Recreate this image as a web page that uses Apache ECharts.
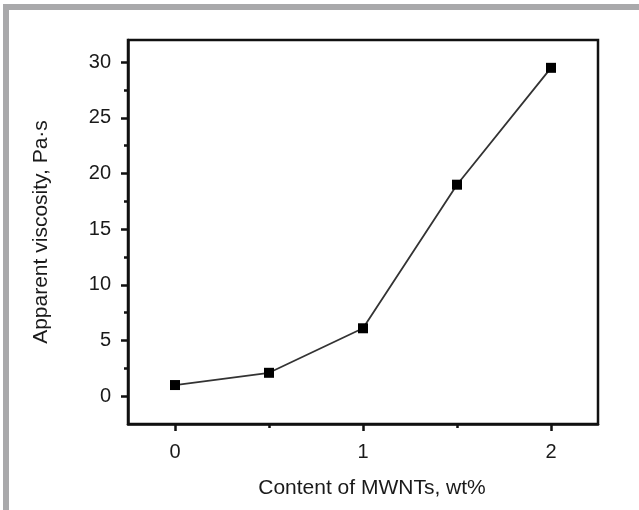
<!DOCTYPE html>
<html>
<head>
<meta charset="utf-8">
<script src="https://cdn.jsdelivr.net/npm/echarts@6/dist/echarts.min.js"></script>
<style>html,body{margin:0;padding:0;background:#fff;}#c{width:639px;height:510px;}</style>
</head>
<body>
<div id="c"></div>
<script>
var contentMWNT = [0, 0.5, 1, 1.5, 2];
var viscosity = [1.0, 2.1, 6.1, 19.0, 29.5];
var xMajorTicks = [0, 1, 2];
var xMinorTicks = [0.5, 1.5];
var yMajorTicks = [0, 5, 10, 15, 20, 25, 30];
var yMinorTicks = [2.5, 7.5, 12.5, 17.5, 22.5, 27.5];
var xName = 'Content of MWNTs, wt%';
var yName = 'Apparent viscosity, Pa·s';

var font = 'Liberation Sans, Arial, sans-serif';
var gridBox = { left: 128, right: 41, top: 40, bottom: 86 };
var xr = { min: -0.25, max: 2.25 };
var yr = { min: -2.5, max: 32 };

var chart = echarts.init(document.getElementById('c'), null, { renderer: 'canvas' });
chart.setOption({
  animation: false,
  backgroundColor: '#fff',
  graphic: [
    { type: 'rect', shape: { x: 3, y: 4, width: 6, height: 506 }, style: { fill: '#a9a9ab' } },
    { type: 'rect', shape: { x: 3, y: 4, width: 636, height: 6 }, style: { fill: '#a9a9ab' } }
  ],
  grid: [
    Object.assign({ show: true, borderColor: '#111', borderWidth: 2.5, backgroundColor: 'transparent' }, gridBox),
    Object.assign({ show: false }, gridBox)
  ],
  xAxis: [
    {
      type: 'value', gridIndex: 0, min: xr.min, max: xr.max,
      name: xName, nameLocation: 'middle', nameGap: 54,
      nameTextStyle: { fontFamily: font, fontSize: 21, color: '#1a1a1a', padding: [0, 0, 0, 18] },
      axisLine: { show: true, onZero: false, lineStyle: { color: '#111', width: 2.5 } },
      axisTick: { show: true, customValues: xMajorTicks, length: 7, lineStyle: { color: '#111', width: 2.5 } },
      axisLabel: { customValues: xMajorTicks, margin: 18, fontFamily: font, fontSize: 20, color: '#1a1a1a' },
      splitLine: { show: false }
    },
    {
      type: 'value', gridIndex: 1, min: xr.min, max: xr.max,
      axisLine: { show: false, onZero: false },
      axisTick: { show: true, customValues: xMinorTicks, length: 4, lineStyle: { color: '#111', width: 2.5 } },
      axisLabel: { show: false, customValues: xMinorTicks },
      splitLine: { show: false }
    }
  ],
  yAxis: [
    {
      type: 'value', gridIndex: 0, min: yr.min, max: yr.max,
      name: yName, nameLocation: 'middle', nameGap: 76, nameRotate: 90,
      nameTextStyle: { fontFamily: font, fontSize: 21, color: '#1a1a1a' },
      axisLine: { show: true, onZero: false, lineStyle: { color: '#111', width: 2.5 } },
      axisTick: { show: true, customValues: yMajorTicks, length: 7, lineStyle: { color: '#111', width: 2.5 } },
      axisLabel: { customValues: yMajorTicks, margin: 17, fontFamily: font, fontSize: 20, color: '#1a1a1a' },
      splitLine: { show: false }
    },
    {
      type: 'value', gridIndex: 1, min: yr.min, max: yr.max,
      axisLine: { show: false, onZero: false },
      axisTick: { show: true, customValues: yMinorTicks, length: 4, lineStyle: { color: '#111', width: 2.5 } },
      axisLabel: { show: false, customValues: yMinorTicks },
      splitLine: { show: false }
    }
  ],
  series: [
    {
      type: 'line', xAxisIndex: 0, yAxisIndex: 0,
      data: contentMWNT.map(function (x, i) { return [x, viscosity[i]]; }),
      symbol: 'rect', symbolSize: 10,
      itemStyle: { color: '#000' },
      lineStyle: { color: '#333', width: 1.8 }
    }
  ]
});
</script>
</body>
</html>
